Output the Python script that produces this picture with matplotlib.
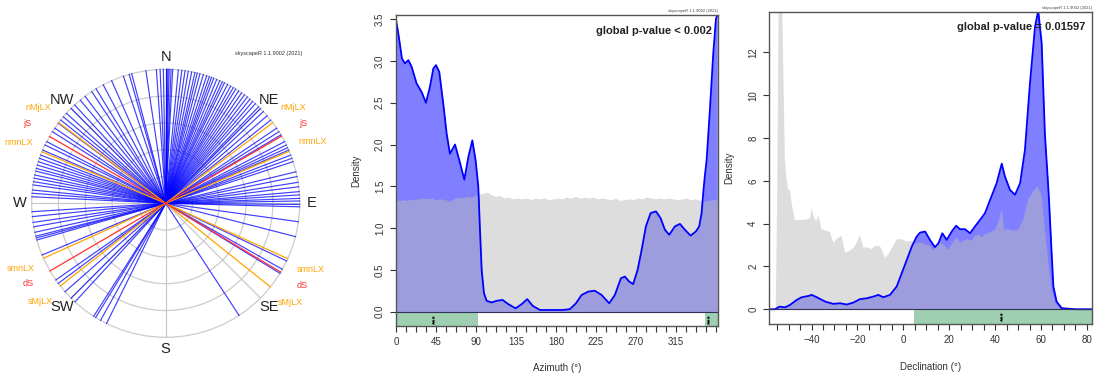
import numpy as np
import matplotlib
matplotlib.use("Agg")
import matplotlib.pyplot as plt
from matplotlib.patches import Circle

plt.rcParams['font.family'] = ['Liberation Sans', 'DejaVu Sans']

# ---------------- orientation data ----------------
azimuths = [
    0, 0.5, 1, 1.5, 2.3, 3, 5.4, 6.9, 8.3, 9.7, 11.2, 12.6, 13.6, 14.8, 16.3,
    17.8, 19, 20, 21, 22.4, 23.8, 25, 26, 27.5, 29, 30.3, 31.5, 33, 34.5, 36,
    37.5, 39, 40.5, 42, 43.9, 45, 46.8, 49.2, 51.6, 55.9, 57.7, 59.3, 62.6,
    64.2, 65.5, 66.6, 68.9, 70.4, 71.9, 76.4, 78.5, 81, 82.9, 85, 86.4, 87.9,
    89, 90.5, 91.5, 97.9, 104.4, 115.5, 119.5, 121.5, 146.8,
    206.2, 209.1, 211.5, 212.5, 222.6, 224.9, 228.7, 233.3, 235.1, 247.3,
    254.1, 255, 255.8, 257.5, 259.9, 261.8, 264.3, 266.4,
    272.8, 274.3, 275.7, 277.9, 279.3, 280.8, 282.2, 283.9, 285.1, 286.6,
    288.1, 289.6, 291.1, 293.4, 295.8, 297.4, 302.3, 304.1, 306.7, 308.4,
    310.2, 312.2, 315.1, 317.2, 320.4, 323, 326.5, 328.7, 332.2, 336.2,
    341.6, 344.2, 345.3, 351.5, 356, 357.6, 359,
]

# solar / lunar reference targets
solar_names = ['jS', 'dS', 'dS', 'jS']
solar_az = [59.9, 120.9, 239.7, 299.9]
lunar_names = ['nMjLX', 'nmnLX', 'smnLX', 'sMjLX', 'sMjLX', 'smnLX', 'nmnLX', 'nMjLX']
lunar_az = [53.0, 67.2, 114.4, 128.6, 231.9, 245.8, 292.6, 307.0]

compass_names = ['N', 'NE', 'E', 'SE', 'S', 'SW', 'W', 'NW']
compass_az = [0, 45, 90, 135, 180, 225, 270, 315]

# ---------------- azimuth density ----------------
az_x = [0, 2.6, 6.7, 10.1, 13.9, 17.6, 23.2, 28.8, 33.7, 38.2, 42, 45, 48.7,
        53.2, 57, 60.7, 66.4, 71.3, 76.9, 81.4, 85.9, 89.6, 92.6, 94.5, 96.4,
        99, 102, 107.6, 113.3, 120, 126.4, 134.6, 141.4, 147.7, 153.8, 162,
        170, 180.8, 188, 195.7, 202.5, 208.9, 216.3, 223.8, 231.3, 239.9,
        246.3, 253.1, 257.6, 262.4, 266.9, 271.9, 276.4, 281.2, 286.5, 292.5,
        297.7, 302.6, 307.5, 313.8, 319.5, 325.1, 331.5, 337.5, 341.2, 343.9,
        345.7, 347.5, 349.5, 353.2, 357, 360, 361.5]
az_emp = [3.49, 3.33, 3.03, 2.97, 3.01, 2.93, 2.73, 2.63, 2.50, 2.69, 2.91,
          2.95, 2.87, 2.49, 2.13, 1.89, 2.00, 1.81, 1.58, 1.85, 2.05, 1.81,
          1.50, 0.98, 0.50, 0.22, 0.13, 0.11, 0.13, 0.14, 0.09, 0.04, 0.09,
          0.15, 0.07, 0.02, 0.02, 0.02, 0.02, 0.03, 0.10, 0.20, 0.24, 0.25,
          0.20, 0.10, 0.20, 0.40, 0.42, 0.36, 0.33, 0.50, 0.74, 1.02, 1.18,
          1.20, 1.12, 0.98, 0.92, 1.02, 1.05, 0.98, 0.91, 0.96, 1.02, 1.18,
          1.42, 1.62, 1.81, 2.41, 3.09, 3.50, 3.55]

az_null_x = [0, 4, 8, 12, 16, 20, 25, 30, 35, 40, 45, 50, 55, 60, 65, 70, 75,
             80, 85, 90, 95, 100, 103, 107, 112, 117, 122, 127, 132, 137, 142,
             147, 152, 157, 162, 167, 172, 177, 182, 187, 192, 197, 202, 207,
             212, 217, 222, 227, 232, 237, 242, 247, 252, 257, 262, 267, 272,
             277, 282, 287, 292, 297, 302, 307, 312, 317, 322, 327, 332, 337,
             342, 347, 352, 357, 362]
az_null = [1.34, 1.33, 1.34, 1.33, 1.35, 1.34, 1.35, 1.36, 1.35, 1.36, 1.34,
           1.35, 1.34, 1.32, 1.35, 1.37, 1.36, 1.38, 1.37, 1.40, 1.41, 1.42,
           1.43, 1.40, 1.38, 1.39, 1.36, 1.37, 1.35, 1.36, 1.35, 1.36, 1.34,
           1.36, 1.35, 1.36, 1.34, 1.35, 1.36, 1.35, 1.37, 1.36, 1.38, 1.36,
           1.37, 1.36, 1.37, 1.35, 1.36, 1.35, 1.34, 1.36, 1.33, 1.34, 1.35,
           1.34, 1.36, 1.35, 1.37, 1.36, 1.35, 1.36, 1.35, 1.36, 1.35, 1.34,
           1.35, 1.36, 1.34, 1.35, 1.33, 1.32, 1.33, 1.34, 1.34]

az_signif = [(0, 92.6), (347.6, 362)]
az_stars = [45, 354.5]
az_ticks = [0, 45, 90, 135, 180, 225, 270, 315]

# ---------------- declination density ----------------
dec_x = [-58.4, -55.9, -54, -51.5, -49.4, -46.5, -44.3, -41.4, -39.9, -37.7,
         -34.1, -30.5, -27.6, -24.7, -21.8, -18.9, -16, -13.1, -10.9, -8.7,
         -5.8, -2.9, -0.7, 1.5, 3.7, 5.8, 7.3, 9.5, 11.6, 13.8, 15.3, 17,
         18.9, 21.1, 23, 24.7, 26.9, 29.1, 31.2, 33.4, 35.6, 37.8, 40.7, 42.9,
         44.3, 46.5, 48.7, 50.9, 53, 55.2, 57.4, 58.8, 60.3, 61.7, 63.0, 63.5,
         64.5, 65.4, 66.8, 69, 75, 82.1]
dec_emp = [0, 0, 0.12, 0.09, 0.2, 0.43, 0.56, 0.62, 0.67, 0.56, 0.36, 0.25,
           0.28, 0.22, 0.31, 0.47, 0.51, 0.59, 0.67, 0.56, 0.67, 1.06, 1.68,
           2.30, 2.93, 3.39, 3.58, 3.63, 3.24, 2.90, 3.08, 3.55, 3.24, 3.63,
           3.90, 3.74, 3.74, 3.55, 3.86, 4.17, 4.49, 5.10, 5.90, 6.80, 6.20,
           5.57, 5.35, 5.89, 7.44, 10.56, 13.20, 13.95, 12.43, 8.20, 6.00,
           5.10, 2.93, 1.06, 0.36, 0.05, 0, 0]

dec_null_x = [-58.4, -55.6, -55.0, -54.2, -53.6, -53.1, -52.7, -52.3, -51.6,
              -51.0, -50.2, -49.4, -48.6, -47.2, -44.3, -42.1, -40.6, -39.9,
              -39.2, -38.0, -37.0, -35.6, -33.4, -32.0, -30.5, -28.3, -26.9,
              -25.4, -23.2, -21.0, -18.9, -17.4, -15.3, -13.8, -12.4, -10.2,
              -8.0, -6.5, -4.4, -2.9, -0.7, 1.5, 3.7, 5.1, 7.3, 9.5, 11.6,
              13.1, 15.3, 17.4, 19.6, 21.1, 23.3, 24.7, 27.6, 29.8, 31.2,
              32.7, 34.1, 35.6, 37.8, 40.0, 41.4, 42.9, 43.9, 45.8, 48.0,
              50.2, 52.3, 54.5, 56.7, 58.5, 60.3, 61.7, 63.2, 64.6, 66.1,
              68.2, 70, 82.1]
dec_null = [0, 0, 5.0, 16.0, 25.0, 20.0, 13.7, 11.3, 7.0, 6.2, 5.6, 5.57,
            4.90, 4.17, 4.17, 4.20, 4.26, 4.73, 4.35, 4.10, 4.37, 3.73, 3.66,
            3.61, 3.11, 3.35, 3.43, 2.65, 2.73, 2.96, 3.46, 2.88, 2.88, 2.80,
            2.96, 2.96, 2.41, 2.57, 2.96, 3.27, 3.27, 3.15, 3.20, 3.04, 3.11,
            3.04, 2.96, 2.73, 3.11, 3.04, 2.77, 3.04, 3.35, 3.11, 3.27, 3.20,
            3.43, 3.50, 3.35, 3.50, 3.58, 3.73, 4.05, 4.67, 3.73, 3.73, 3.66,
            3.73, 4.20, 5.14, 5.53, 5.76, 5.30, 3.73, 2.18, 0.93, 0.31, 0.05,
            0, 0]

dec_signif = [(4.7, 82.1)]
dec_stars = [43.6]
dec_ticks = [-40, -20, 0, 20, 40, 60, 80]

# ---------------- figure ----------------
W, H = 1097, 383
fig = plt.figure(figsize=(W / 100, H / 100), dpi=100)

def px_axes(x0, y0, x1, y1):
    """axes from pixel box (left, top, right, bottom)"""
    return fig.add_axes([x0 / W, 1 - y1 / H, (x1 - x0) / W, (y1 - y0) / H])

BLUE_FILL = (0, 0, 1, 0.5)
NULL_FILL = (0.737, 0.737, 0.737, 0.5)
GREEN = '#9DCFB0'
TXT = '#333333'

# ---------- polar azimuth diagram ----------
cx, cy, R = 165.7, 203.3, 134.0
axp = px_axes(0, 0, 340, H)
axp.set_xlim(-cx / R, (340 - cx) / R)
axp.set_ylim(-(H - cy) / R, cy / R)
axp.axis('off')

for r in [0.2, 0.4, 0.6, 0.8, 1.0]:
    axp.add_patch(Circle((0, 0), r, fill=False, ec='#CCCCCC', lw=0.9))
for a in compass_az:
    t = np.deg2rad(a)
    axp.plot([0, np.sin(t)], [0, np.cos(t)], color='#C8C8C8', lw=0.9)

for a in azimuths:
    t = np.deg2rad(a)
    axp.plot([0, np.sin(t)], [0, np.cos(t)], color=(0, 0, 1, 0.75), lw=0.85)
for a in lunar_az:
    t = np.deg2rad(a)
    axp.plot([0, np.sin(t)], [0, np.cos(t)], color='#FFA500', lw=0.9)
for a in solar_az:
    t = np.deg2rad(a)
    axp.plot([0, np.sin(t)], [0, np.cos(t)], color='#FF3030', lw=0.9)

for name, a in zip(lunar_names, lunar_az):
    t = np.deg2rad(a)
    axp.text(1.19 * np.sin(t), 1.19 * np.cos(t), name, color='#FFA500',
             fontsize=6.5, ha='center', va='center')
for name, a in zip(solar_names, solar_az):
    t = np.deg2rad(a)
    axp.text(1.19 * np.sin(t), 1.19 * np.cos(t), name, color='#FF3030',
             fontsize=6.5, ha='center', va='center')
for name, a in zip(compass_names, compass_az):
    t = np.deg2rad(a)
    axp.text(1.09 * np.sin(t), 1.09 * np.cos(t), name, color='#222222',
             fontsize=10.5, ha='center', va='center')
axp.text((269 - cx) / R, (cy - 54) / R, 'skyscapeR 1.1.9002 (2021)',
         fontsize=4, ha='center', va='center', color='#333333')


def density_panel(ax, x, emp, nx, nul, xlim, ylim, signif, stars, xticks,
                  minor, xlabel, ptext):
    ax.fill_between(x, 0, emp, color=BLUE_FILL, lw=0)
    ax.plot(x, emp, color='blue', lw=1.3)
    ax.fill_between(nx, 0, nul, color=NULL_FILL, lw=0)
    ax.axhline(0, color='#30305A', lw=0.8)
    for a, b in signif:
        ax.fill_between([a, b], ylim[0], 0, color=GREEN, lw=0)
    for s in stars:
        ax.text(s, ylim[0] / 2, '***', rotation=90, ha='center', va='center',
                fontsize=6, fontweight='bold', color='black')
    ax.set_xlim(*xlim)
    ax.set_ylim(*ylim)
    ax.set_xticks(xticks)
    ax.set_xticks(minor, minor=True)
    ax.tick_params(which='both', direction='out', colors='#333333',
                   labelsize=7, length=4.5, width=0.8)
    ax.tick_params(which='minor', length=4.5)
    for lab in ax.get_yticklabels():
        lab.set_rotation(90)
        lab.set_va('center')
    for sp in ax.spines.values():
        sp.set_color('#555555')
        sp.set_linewidth(1.0)
    ax.set_xlabel(xlabel, fontsize=7, color=TXT, labelpad=12)
    ax.set_ylabel('Density', fontsize=7, color=TXT, labelpad=10)
    ax.text(0.981, 0.95, ptext, transform=ax.transAxes, ha='right',
            va='center', fontsize=8, fontweight='bold', color='#222222')
    ax.text(1.0, 1.006, 'skyscapeR 1.1.9002 (2021)', transform=ax.transAxes,
            ha='right', va='bottom', fontsize=3, color='#444444')


ax1 = px_axes(396, 15, 717.7, 325.7)
density_panel(ax1, az_x, az_emp, az_null_x, az_null, (0, 362),
              (-0.168, 3.55), az_signif, az_stars, az_ticks,
              np.arange(0, 362, 11.25), 'Azimuth (°)',
              'global p-value < 0.002')
ax1.set_yticks([0, 0.5, 1.0, 1.5, 2.0, 2.5, 3.0, 3.5])
ax1.set_yticklabels(['0.0', '0.5', '1.0', '1.5', '2.0', '2.5', '3.0', '3.5'],
                    rotation=90, va='center')

ax2 = px_axes(769.3, 11.7, 1091.7, 324)
density_panel(ax2, dec_x, dec_emp, dec_null_x, dec_null, (-58.4, 82.1),
              (-0.69, 13.9), dec_signif, dec_stars, dec_ticks,
              np.arange(-55, 82, 5), 'Declination (°)',
              'global p-value = 0.01597')
ax2.set_yticks([0, 2, 4, 6, 8, 10, 12])
ax2.set_yticklabels(['0', '2', '4', '6', '8', '10', '12'], rotation=90,
                    va='center')

fig.savefig('out.png', dpi=100)
